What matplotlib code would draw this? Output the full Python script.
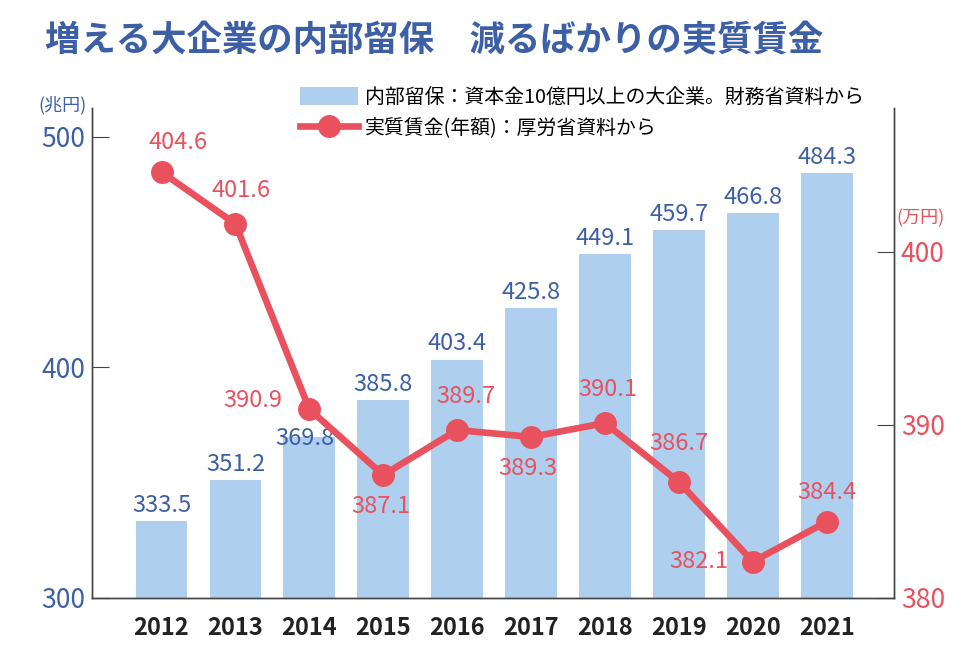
import matplotlib
matplotlib.use("Agg")
import matplotlib.pyplot as plt
from matplotlib.lines import Line2D
from matplotlib.patches import Patch

plt.rcParams['font.family'] = ['Noto Sans CJK JP', 'DejaVu Sans']

years = ["2012", "2013", "2014", "2015", "2016", "2017", "2018", "2019", "2020", "2021"]
reserves = [333.5, 351.2, 369.8, 385.8, 403.4, 425.8, 449.1, 459.7, 466.8, 484.3]
wages = [404.6, 401.6, 390.9, 387.1, 389.7, 389.3, 390.1, 386.7, 382.1, 384.4]

title = "増える大企業の内部留保　減るばかりの実質賃金"
bar_label = "内部留保：資本金10億円以上の大企業。財務省資料から"
line_label = "実質賃金(年額)：厚労省資料から"

blue_txt = "#3d5fa6"
bar_col = "#aecfee"
red = "#e8515d"
spine_col = "#444444"

# label placement (offset points)
bar_offsets = [(0, 3), (0, 3), (-3, -9), (0, 3), (0, 3),
               (0, 3), (0, 3), (0, 3), (0, 3), (0, 3)]
wage_offsets = [(12, 21), (4, 24), (-41, 6), (-2, -23), (6, 24),
                (-2, -23), (2, 24), (0, 28), (-39, 0), (0, 21)]

fig = plt.figure(figsize=(9.73, 6.58), dpi=100)
ax = fig.add_axes([0.0946, 0.0912, 0.8242, 0.7448])
ax2 = ax.twinx()

x = list(range(len(years)))
ax.bar(x, reserves, width=0.7, color=bar_col, zorder=1)
ax.set_xlim(-0.94, 9.91)
ax.set_ylim(300, 512.6)
ax.set_yticks([300, 400, 500])
ax.set_xticks(x)
ax.set_xticklabels(years, fontsize=17, fontweight='bold', color="#222222")
ax.tick_params(axis='x', length=0, pad=13)
ax.tick_params(axis='y', direction='in', length=12, color=spine_col,
               labelsize=19, labelcolor=blue_txt, pad=5)

for xi, v, (dx, dy) in zip(x, reserves, bar_offsets):
    ax.annotate(f"{v}", (xi, v), xytext=(dx, dy), textcoords='offset points',
                ha='center', va='bottom', fontsize=17, color=blue_txt)

ax2.plot(x, wages, color=red, lw=4.8, marker='o', markersize=15.5, zorder=3)
ax2.set_ylim(380, 408.3)
ax2.set_yticks([380, 390, 400])
ax2.tick_params(axis='y', direction='in', length=12, color=spine_col,
                labelsize=19, labelcolor=red, pad=5)

for xi, v, (dx, dy) in zip(x, wages, wage_offsets):
    ax2.annotate(f"{v}", (xi, v), xytext=(dx, dy), textcoords='offset points',
                 ha='center', va='center', fontsize=17, color=red)

for a in (ax, ax2):
    a.spines['top'].set_visible(False)
    for s in ('left', 'right', 'bottom'):
        a.spines[s].set_color(spine_col)
        a.spines[s].set_linewidth(1.0)

fig.text(0.046, 0.937, title, fontsize=25.5, fontweight='bold', color=blue_txt,
         ha='left', va='center')
fig.text(0.064, 0.84, "(兆円)", fontsize=13, color=blue_txt, ha='center', va='center')
fig.text(0.946, 0.668, "(万円)", fontsize=13, color=red, ha='center', va='center')

handles = [Patch(facecolor=bar_col, edgecolor='none'),
           Line2D([0], [0], color=red, lw=4.8, marker='o', markersize=15.5)]
fig.legend(handles, [bar_label, line_label], loc='upper left',
           bbox_to_anchor=(0.29, 0.895), frameon=False, fontsize=14.3,
           handlelength=2.9, handleheight=1.0, labelspacing=0.5, handletextpad=0.35)

fig.savefig("out.png", dpi=100)
